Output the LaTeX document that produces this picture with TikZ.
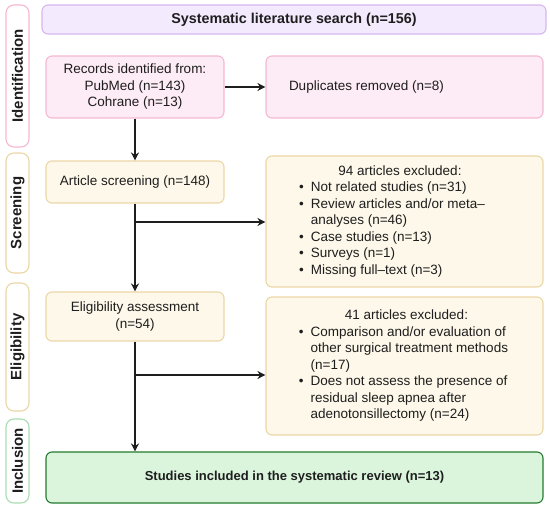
\documentclass[tikz,border=0pt]{standalone}
\usepackage{fontspec}
\setmainfont{Liberation Sans}
\usetikzlibrary{arrows.meta}
\definecolor{pinkfill}{HTML}{FDEBF5}
\definecolor{pinkline}{HTML}{F5B8D2}
\definecolor{purpfill}{HTML}{F4EAFD}
\definecolor{purpline}{HTML}{D7B6EE}
\definecolor{yelfill}{HTML}{FDF8E9}
\definecolor{yelline}{HTML}{EBD6A6}
\definecolor{grnfill}{HTML}{DBF5DD}
\definecolor{grnline}{HTML}{237A2E}
\definecolor{grnside}{HTML}{A9DDB1}
\definecolor{txt}{HTML}{1E1E1E}
\tikzset{
  box/.style={rectangle, rounded corners=6pt, line width=1.1pt, inner sep=2pt, align=center, text=txt, font=\fontsize{13.5}{16.5}\selectfont},
  sidebox/.style={rectangle, rounded corners=8pt, line width=1.1pt, fill=white, rotate=90, minimum height=23pt, inner sep=0pt, text=txt, font=\bfseries\fontsize{15}{17}\selectfont},
  arr/.style={-{Stealth[length=8pt,width=8pt]}, line width=1.2pt, draw=txt},
  ln/.style={line width=1.2pt, draw=txt}
}
\begin{document}
\begin{tikzpicture}[x=1pt,y=-1pt]
\useasboundingbox (0,0) rectangle (550,508);
% side labels
\node[sidebox, draw=pinkline, minimum width=142pt] (sid) at (17.5,76) {Identification};
\node[sidebox, draw=yelline, minimum width=120pt] (sscr) at (17.5,213) {Screening};
\node[sidebox, draw=yelline, minimum width=128pt] (sel) at (17.5,347) {Eligibility};
\node[sidebox, draw=grnside, minimum width=84pt] (sinc) at (17.5,461) {Inclusion};
% main boxes
\node[box, draw=purpline, fill=purpfill, minimum width=504pt, minimum height=29pt, font=\bfseries\fontsize{14.3}{16}\selectfont] (top) at (294,19.5) {Systematic literature search (n=156)};
\node[box, draw=pinkline, fill=pinkfill, minimum width=178pt, minimum height=62pt] (rec) at (135,87) {Records identified from:\\PubMed (n=143)\\Cohrane (n=13)};
\node[box, draw=pinkline, fill=pinkfill, minimum width=277pt, minimum height=62pt, align=left] (dup) at (404.5,87) {\makebox[231pt][l]{Duplicates removed (n=8)}};
\node[box, draw=yelline, fill=yelfill, minimum width=178pt, minimum height=42pt] (scr) at (135,182) {Article screening (n=148)};
\node[box, draw=yelline, fill=yelfill, minimum width=277pt, minimum height=131pt] (ex1) at (404.5,221.5) {\hspace*{-25pt}\begin{tabular}{@{}l@{\hspace{7pt}}l@{}}
\multicolumn{2}{c}{\hspace*{16pt}94 articles excluded:}\\
\textbullet & Not related studies (n=31)\\
\textbullet & Review articles and/or meta–\\
 & analyses (n=46)\\
\textbullet & Case studies (n=13)\\
\textbullet & Surveys (n=1)\\
\textbullet & Missing full–text (n=3)
\end{tabular}};
\node[box, draw=yelline, fill=yelfill, minimum width=178pt, minimum height=49pt] (elig) at (135,316.5) {Eligibility assessment\\(n=54)};
\node[box, draw=yelline, fill=yelfill, minimum width=277pt, minimum height=138pt] (ex2) at (404.5,366) {\hspace*{-2pt}\begin{tabular}{@{}l@{\hspace{7pt}}l@{}}
\multicolumn{2}{c}{\hspace*{6pt}41 articles excluded:}\\
\textbullet & Comparison and/or evaluation of\\
 & other surgical treatment methods\\
 & (n=17)\\
\textbullet & Does not assess the presence of\\
 & residual sleep apnea after\\
 & adenotonsillectomy (n=24)
\end{tabular}};
\node[box, draw=grnline, fill=grnfill, minimum width=497pt, minimum height=51pt, font=\bfseries\fontsize{13}{15}\selectfont] (inc) at (294.5,477.5) {Studies included in the systematic review (n=13)};
% connectors
\coordinate (b1) at (135,222);
\coordinate (b2) at (136,375);
\draw[arr] (rec) -- (dup);
\draw[arr] (rec) -- (scr);
\draw[arr] (scr) -- (elig);
\draw[arr] (b1) -- (b1 -| ex1.west);
\draw[arr] (elig.south) -- (elig.south |- inc.north);
\draw[arr] (b2) -- (b2 -| ex2.west);
\end{tikzpicture}
\end{document}
